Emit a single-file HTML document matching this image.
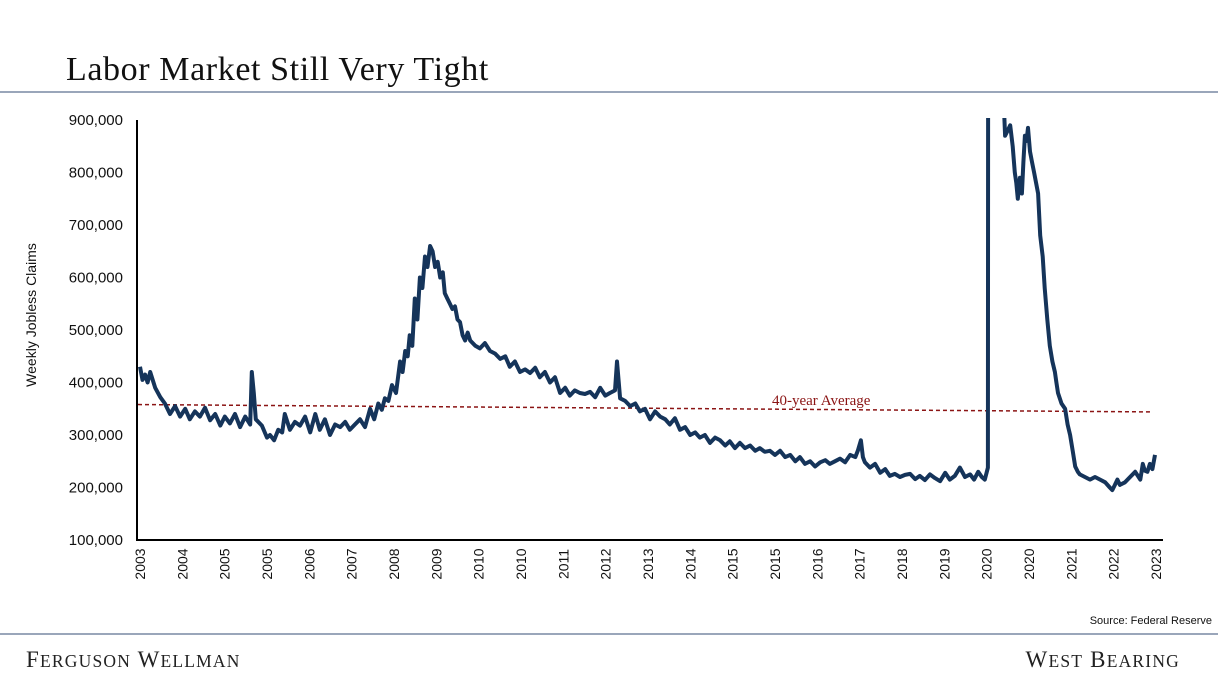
<!DOCTYPE html>
<html><head><meta charset="utf-8">
<style>
body{margin:0;width:1218px;height:680px;background:#fff;overflow:hidden;font-family:"Liberation Sans",sans-serif;}
</style></head>
<body>
<svg id="chart" width="1218" height="680" xmlns="http://www.w3.org/2000/svg">
<text x="66" y="80" font-family="Liberation Serif,serif" font-size="34" letter-spacing="0.6" fill="#111">Labor Market Still Very Tight</text>
<line x1="0" y1="92" x2="1218" y2="92" stroke="#5d7290" stroke-width="1.2"/>
<line x1="0" y1="634" x2="1218" y2="634" stroke="#5d7290" stroke-width="1.2"/>
<text x="26" y="667" font-family="Liberation Serif,serif" font-size="23" fill="#222" letter-spacing="1.2">F<tspan font-size="17.5">ERGUSON</tspan> W<tspan font-size="17.5">ELLMAN</tspan></text>
<text x="1180" y="667" text-anchor="end" font-family="Liberation Serif,serif" font-size="23" fill="#222" letter-spacing="1.2">W<tspan font-size="17.5">EST</tspan> B<tspan font-size="17.5">EARING</tspan></text>
<text x="1212" y="624" text-anchor="end" font-size="11" fill="#111">Source: Federal Reserve</text>
<text transform="translate(36,315) rotate(-90)" text-anchor="middle" font-size="14" fill="#111">Weekly Jobless Claims</text>
<g id="yticks"></g><g id="xticks"></g>
<defs><clipPath id="plotclip"><rect x="137" y="118" width="1030" height="424"/></clipPath></defs>
<g id="avg"></g>
<g id="series" clip-path="url(#plotclip)"></g>
<line x1="137" y1="120" x2="137" y2="541" stroke="#000" stroke-width="2"/>
<line x1="136" y1="540" x2="1163" y2="540" stroke="#000" stroke-width="2"/>
</svg>
<script>
const yTicks=[100000,200000,300000,400000,500000,600000,700000,800000,900000];
const xLabels=["2003","2004","2005","2005","2006","2007","2008","2009","2010","2010","2011","2012","2013","2014","2015","2015","2016","2017","2018","2019","2020","2020","2021","2022","2023"];
// time in chart-years since start, claims in thousands
const times=[
0,.05,.1,.15,.2,.3,.4,.49,.59,.69,.79,.89,.98,1.08,1.18,1.28,1.38,1.48,1.58,1.67,1.77,1.87,1.97,2.07,2.17,
2.2,2.24,2.28,2.4,2.5,2.56,2.64,2.72,2.8,2.85,2.95,3.05,3.15,3.25,3.35,3.45,3.54,3.64,3.74,3.84,3.94,4.04,4.13,4.23,4.33,4.43,4.53,
4.61,4.69,4.76,4.82,4.89,4.96,5.04,5.12,5.17,5.22,5.27,5.31,5.36,5.41,5.46,5.51,5.56,5.61,5.66,5.71,5.76,5.81,5.86,5.91,5.96,6.0,
6.05,6.1,6.15,6.2,6.25,6.3,6.35,6.4,6.45,6.5,6.6,6.69,6.79,6.89,6.99,7.09,7.19,7.28,7.38,7.48,
7.58,7.68,7.78,7.87,7.97,8.07,8.17,8.27,8.37,8.46,8.56,8.66,8.76,8.86,8.96,9.06,9.16,9.25,9.35,9.39,9.45,
9.55,9.65,9.75,9.84,9.94,10.04,10.14,10.24,10.34,10.43,10.53,10.63,10.73,10.83,10.93,11.02,11.12,11.22,11.32,11.42,11.52,11.61,11.71,11.81,11.91,12.01,12.11,12.2,12.3,12.4,12.5,12.6,12.7,12.8,12.9,12.99,13.09,13.19,13.29,13.39,13.49,13.58,13.68,13.78,13.88,13.98,
14.08,14.13,14.19,14.23,14.27,14.37,14.47,14.57,14.67,14.76,14.86,14.96,15.06,15.16,15.26,15.35,15.45,15.55,15.65,15.75,15.85,15.94,16.04,16.14,16.24,16.34,16.42,16.5,16.57,16.63,16.69,
16.71,16.77,16.89,17.03,17.08,17.13,17.18,17.22,17.25,17.28,17.32,17.36,17.39,17.42,17.45,17.48,17.52,17.56,17.6,17.64,17.68,17.72,17.77,17.81,17.86,17.91,17.96,18.01,18.04,18.07,18.14,18.21,18.26,18.31,18.36,18.41,18.46,18.5,
18.6,18.7,18.8,18.9,19.0,19.09,19.14,19.19,19.24,19.29,19.39,19.49,19.59,19.69,19.74,19.78,19.83,19.88,19.93,19.98];
const claims=[
430,405,415,400,420,390,372,360,340,355,335,350,330,345,335,352,328,340,318,335,322,340,315,335,320,
420,380,330,318,295,300,290,310,305,340,310,325,318,335,305,340,310,330,300,320,315,325,310,320,330,315,350,
330,360,348,370,365,395,380,440,420,460,450,490,470,560,520,600,580,640,620,660,650,620,630,600,610,570,
560,550,540,545,520,515,490,480,495,480,470,465,475,460,455,445,450,430,440,420,
425,418,428,410,420,400,410,380,390,375,385,380,378,382,372,390,375,380,385,440,370,
365,355,360,345,350,330,345,335,330,320,332,310,315,300,305,295,300,285,295,290,280,288,275,285,275,280,270,275,268,270,262,270,258,262,250,258,245,250,240,248,252,245,250,255,248,262,
258,270,290,258,248,238,245,228,235,222,226,220,224,226,216,222,214,225,218,212,228,215,222,238,220,225,215,230,220,215,238,
3500,2500,1200,870,880,890,850,800,780,750,790,760,820,870,860,885,840,820,800,780,760,680,640,580,520,470,440,420,400,380,360,350,320,300,270,240,230,225,
220,215,220,215,210,200,195,205,215,205,210,220,230,215,245,232,230,245,235,262];
const avgStart=358, avgEnd=344;
const X0=140, XW=1016/20, Y0=540, YP=52.5/100;
const xs=t=>X0+t*XW, ys=v=>Y0-(v-100)*YP;
const NS="http://www.w3.org/2000/svg";
const yg=document.getElementById('yticks');
yTicks.forEach(v=>{const t=document.createElementNS(NS,'text');
t.setAttribute('x',123);t.setAttribute('y',ys(v/1000)+5);t.setAttribute('text-anchor','end');t.setAttribute('font-size','15');t.setAttribute('fill','#111');
t.textContent=v.toLocaleString('en-US');


yg.appendChild(t);});
const xg=document.getElementById('xticks');
xLabels.forEach((l,i)=>{const x=140+i*(1016/24);const t=document.createElementNS(NS,'text');
t.setAttribute('transform',`translate(${x+5},564) rotate(-90)`);t.setAttribute('text-anchor','middle');t.setAttribute('font-size','14');t.setAttribute('fill','#111');
t.textContent=l;


xg.appendChild(t);});
const ag=document.getElementById('avg');
const al=document.createElementNS(NS,'line');
al.setAttribute('x1',138);al.setAttribute('x2',1150);al.setAttribute('y1',ys(avgStart));al.setAttribute('y2',ys(avgEnd));
al.setAttribute('stroke','#8b1414');al.setAttribute('stroke-width','1.5');al.setAttribute('stroke-dasharray','4,3');


ag.appendChild(al);
const at=document.createElementNS(NS,'text');
at.setAttribute('x',772);at.setAttribute('y',405);at.setAttribute('font-family','Liberation Serif,serif');at.setAttribute('font-size','15');at.setAttribute('fill','#8b1414');
at.textContent='40-year Average';


ag.appendChild(at);
const n=Math.min(times.length,claims.length);
const p=document.createElementNS(NS,'path');
p.setAttribute('d',times.slice(0,n).map((t,i)=>(i?'L':'M')+xs(t).toFixed(1)+','+ys(claims[i]).toFixed(1)).join(''));
p.setAttribute('fill','none');p.setAttribute('stroke','#15345a');p.setAttribute('stroke-width','4');p.setAttribute('stroke-linejoin','round');


document.getElementById('series').appendChild(p);
</script>
</body></html>
